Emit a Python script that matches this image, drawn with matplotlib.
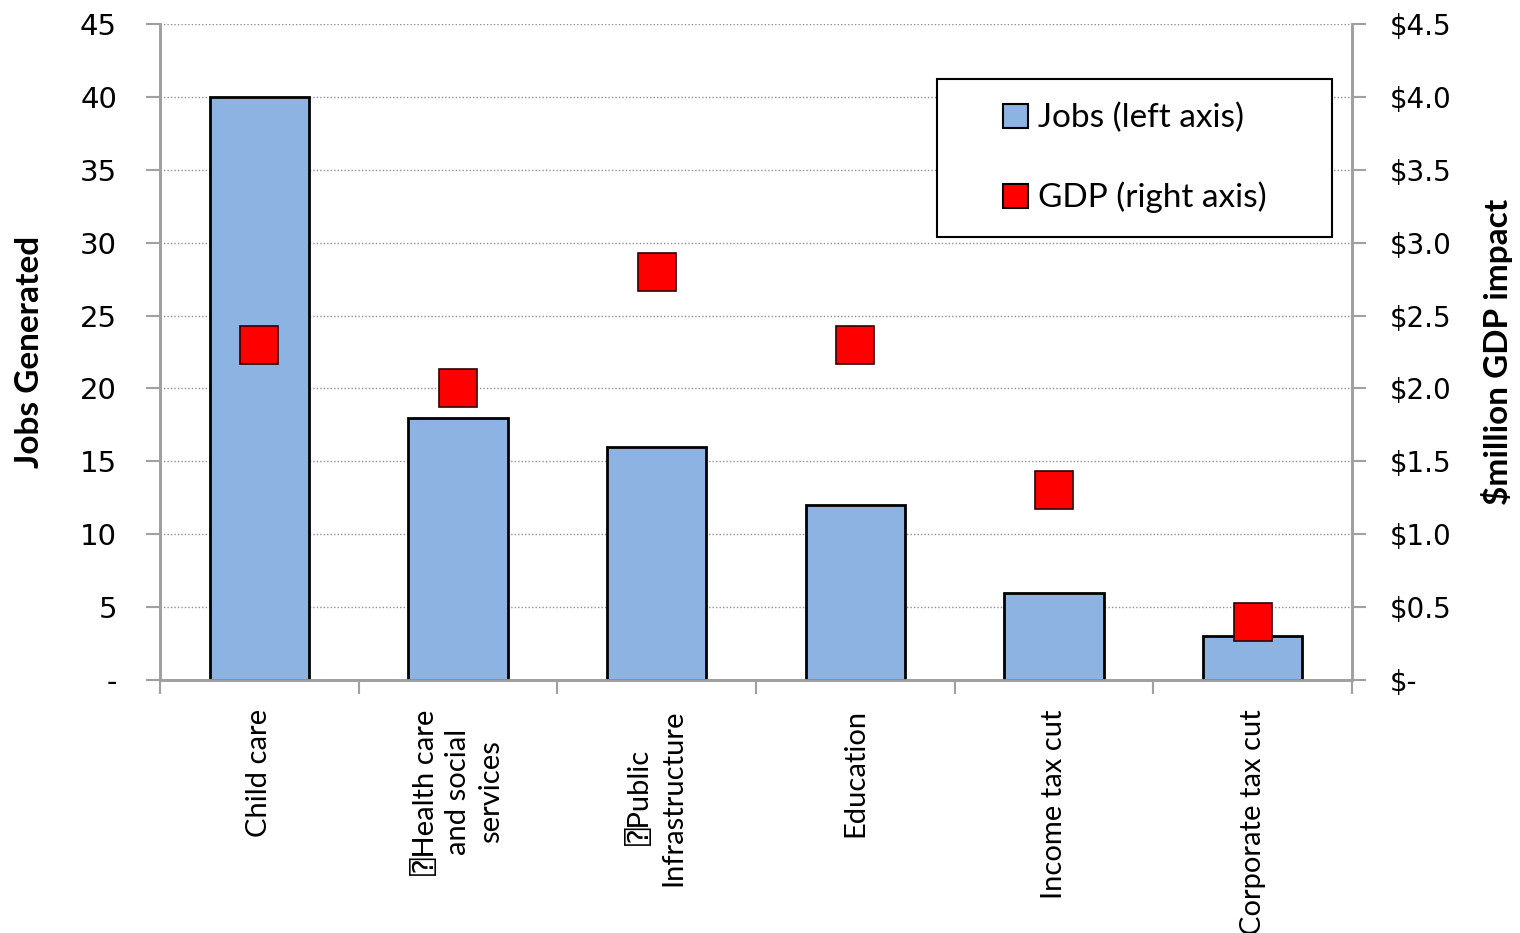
import matplotlib
matplotlib.use("Agg")
import matplotlib.pyplot as plt
from matplotlib.patches import Patch, Rectangle
from matplotlib.ticker import FuncFormatter
import numpy as np

# data
categories = ["Child care", "\u2370Health care\nand social\nservices", "\u2370Public\nInfrastructure",
              "Education", "Income tax cut", "Corporate tax cut"]
jobs = [40, 18, 16, 12, 6, 3]
gdp = [2.3, 2.0, 2.8, 2.3, 1.3, 0.4]

left_ticks = [0, 5, 10, 15, 20, 25, 30, 35, 40, 45]
right_ticks = [0, 0.5, 1.0, 1.5, 2.0, 2.5, 3.0, 3.5, 4.0, 4.5]

bar_color = "#8DB3E2"
marker_color = "#FF0000"
axis_gray = "#A0A0A0"
text_font = ["Lato", "DejaVu Sans", "DejaVu Sans Mono"]

W, H = 1520, 933
fig = plt.figure(figsize=(W / 100, H / 100), dpi=100)
ax = fig.add_axes([160 / W, 1 - 680 / H, 1192 / W, 656 / H])
ax2 = ax.twinx()

x = np.arange(len(categories))
ax.bar(x, jobs, width=0.5, color=bar_color, edgecolor="black", linewidth=2, zorder=3)
ax2.plot(x, gdp, linestyle="none", marker="s", markersize=28,
         markerfacecolor=marker_color, markeredgecolor="#300000", markeredgewidth=1.2, zorder=4)

ax.set_xlim(-0.5, len(categories) - 0.5)
ax.set_ylim(0, 45)
ax2.set_ylim(0, 4.5)

ax.set_yticks(left_ticks)
ax.yaxis.set_major_formatter(FuncFormatter(lambda v, p: "-" if v == 0 else f"{v:.0f}"))
ax2.set_yticks(right_ticks)
ax2.yaxis.set_major_formatter(FuncFormatter(lambda v, p: "$-" if v == 0 else f"${v:.1f}"))

ax.yaxis.grid(True, linestyle=(0, (1, 1.5)), color="#909090", linewidth=1, zorder=0)
ax.set_axisbelow(True)

for a in (ax, ax2):
    a.spines["top"].set_visible(False)
    for s in ("left", "right", "bottom"):
        a.spines[s].set_color(axis_gray)
        a.spines[s].set_linewidth(2)

ax.tick_params(axis="y", length=10, width=1.5, color=axis_gray, labelsize=21, pad=21)
ax2.tick_params(axis="y", length=10, width=1.5, color=axis_gray, labelsize=20, pad=17)

# category labels at centres, tick marks at boundaries
ax.set_xticks(x)
ax.set_xticklabels(categories, rotation=90, ha="center", va="top", multialignment="center",
                   fontsize=21, family=text_font, linespacing=1.3)
ax.tick_params(axis="x", which="major", length=0, pad=21)
ax.set_xticks(np.arange(-0.5, len(categories), 1), minor=True)
ax.tick_params(axis="x", which="minor", length=10, width=1.5, color=axis_gray)

# axis titles placed in figure pixels
fig.text(30 / W, 1 - 352 / H, "Jobs Generated", rotation=90, ha="center", va="center",
         fontsize=24, fontweight="bold", family=text_font)
fig.text(1497 / W, 1 - 352 / H, "$million GDP impact", rotation=90, ha="center", va="center",
         fontsize=24, fontweight="bold", family=text_font)

# legend box
ax2.add_patch(Rectangle((0.652, 0.675), 0.331, 0.241, transform=ax2.transAxes,
                        facecolor="white", edgecolor="black", linewidth=1.5, zorder=5))
handles = [Patch(facecolor=bar_color, edgecolor="black", linewidth=1.5),
           Patch(facecolor=marker_color, edgecolor="black", linewidth=1.5)]
leg = ax2.legend(handles, ["Jobs (left axis)", "GDP (right axis)"], loc="center",
                 bbox_to_anchor=(0.652, 0.675, 0.331, 0.241), frameon=False,
                 prop={"family": text_font, "size": 24}, handlelength=0.75, handleheight=0.75,
                 handletextpad=0.3, labelspacing=1.45)
leg.set_zorder(6)

fig.savefig("out.png", dpi=100)
